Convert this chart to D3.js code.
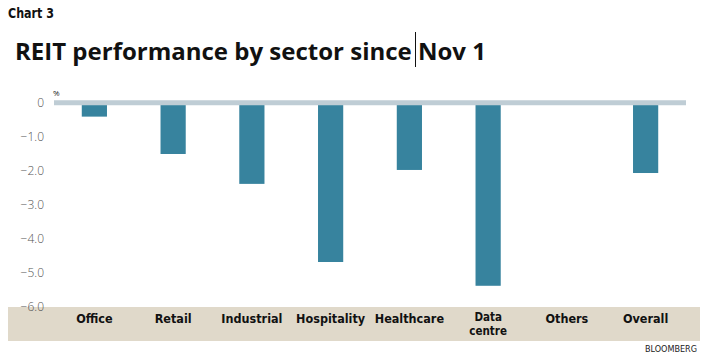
<!DOCTYPE html>
<html>
<head>
<meta charset="utf-8">
<script src="https://cdn.jsdelivr.net/npm/d3@7"></script>
<style>
  body { margin: 0; background: #fff; }
  svg { display: block; }
</style>
</head>
<body>
<div id="chart"></div>
<script>
var sectors = ["Office", "Retail", "Industrial", "Hospitality", "Healthcare", "Data centre", "Others", "Overall"];
var perf = [-0.41, -1.51, -2.39, -4.69, -1.98, -5.39, null, -2.07];
var yTicks = [0, -1, -2, -3, -4, -5, -6];

var width = 709, height = 363;
var condensed = "'DejaVu Sans Condensed', 'Liberation Sans Narrow', sans-serif";

var svg = d3.select("#chart").append("svg")
    .attr("width", width)
    .attr("height", height);

var x = d3.scaleBand()
    .domain(sectors)
    .range([55, 685])
    .paddingInner(0.68)
    .paddingOuter(0.34);

var y = d3.scaleLinear()
    .domain([-6, 0])
    .range([306.5, 102.7]);

// heading
svg.append("text")
    .attr("x", 8).attr("y", 18)
    .attr("textLength", 46)
    .attr("lengthAdjust", "spacingAndGlyphs")
    .style("font-family", condensed)
    .style("font-weight", "bold")
    .style("font-size", "14px")
    .style("fill", "#111")
    .text("Chart 3");

var title = svg.append("text")
    .attr("x", 15).attr("y", 60)
    .style("font-family", "'Open Sans', sans-serif")
    .style("font-weight", "bold")
    .style("font-size", "24px")
    .style("fill", "#111");
var t1 = title.append("tspan").text("REIT performance by sector since");
title.append("tspan").text(" Nov 1");

// stray cursor mark in the title, just after "since"
var cx = Math.round(15 + t1.node().getComputedTextLength() + 3) + 0.5;
svg.append("line")
    .attr("x1", cx).attr("x2", cx)
    .attr("y1", 32).attr("y2", 67)
    .attr("stroke", "#111").attr("stroke-width", 1);

// category band at the bottom
svg.append("rect")
    .attr("x", 8).attr("y", 307)
    .attr("width", 692).attr("height", 34)
    .attr("fill", "#e0d9ca");

// y axis labels
var yAxis = d3.axisLeft(y)
    .tickValues(yTicks)
    .tickSize(0)
    .tickPadding(0)
    .tickFormat(function(d) { return d === 0 ? "0" : d3.format(".1f")(d); });

var gy = svg.append("g")
    .attr("transform", "translate(44,0)")
    .call(yAxis);
gy.select(".domain").remove();
gy.selectAll("text")
    .style("font-family", "'Open Sans', sans-serif")
    .style("font-size", "12px")
    .style("font-weight", "300")
    .style("fill", "#555");

svg.append("text")
    .attr("x", 53).attr("y", 96)
    .style("font-family", "'Open Sans', sans-serif")
    .style("font-size", "8px")
    .style("fill", "#222")
    .text("%");

// bars
svg.selectAll(".bar")
    .data(sectors.map(function(s, i) { return {s: s, v: perf[i]}; }).filter(function(d) { return d.v !== null; }))
    .enter().append("rect")
    .attr("class", "bar")
    .attr("x", function(d) { return x(d.s); })
    .attr("width", x.bandwidth())
    .attr("y", y(0))
    .attr("height", function(d) { return y(d.v) - y(0); })
    .attr("fill", "#37839e");

// zero line
svg.append("line")
    .attr("x1", 54).attr("x2", 686)
    .attr("y1", y(0)).attr("y2", y(0))
    .attr("stroke", "#bfcdd5")
    .attr("stroke-width", 5);

// category labels
var xl = svg.append("g");
sectors.forEach(function(s) {
  var words = s === "Data centre" ? ["Data", "centre"] : [s];
  words.forEach(function(w, i) {
    xl.append("text")
        .attr("x", x(s) + x.bandwidth() / 2)
        .attr("y", words.length > 1 ? 321 + i * 14 : 323)
        .attr("text-anchor", "middle")
        .style("font-family", condensed)
        .style("font-weight", "bold")
        .style("font-size", words.length > 1 ? "11.5px" : "12.5px")
        .style("fill", "#111")
        .text(w);
  });
});

svg.append("text")
    .attr("x", 697).attr("y", 352)
    .attr("text-anchor", "end")
    .style("font-family", condensed)
    .style("font-size", "9px")
    .style("fill", "#222")
    .text("BLOOMBERG");
</script>
</body>
</html>
